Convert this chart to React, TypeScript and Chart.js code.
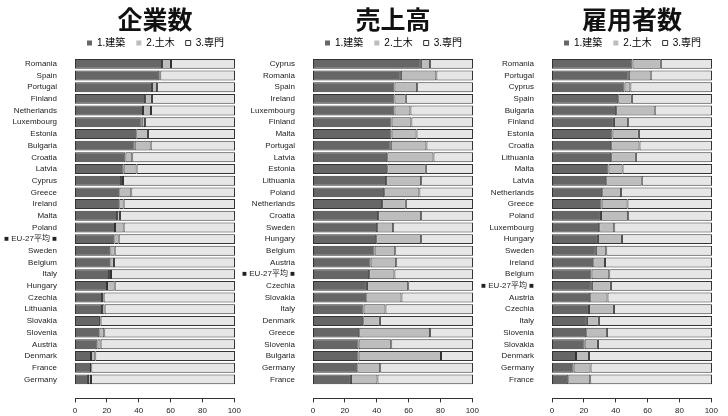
import React, { useEffect, useRef } from 'react';
import { Chart, registerables } from 'chart.js';
Chart.register(...registerables);

const SERIES_NAMES = ['1.建築', '2.土木', '3.専門'];
const X_MIN = 0;
const X_MAX = 100;
const X_STEP = 20;

const TITLES = ['企業数', '売上高', '雇用者数'];

const LABELS_1 = ['Romania', 'Spain', 'Portugal', 'Finland', 'Netherlands', 'Luxembourg', 'Estonia', 'Bulgaria', 'Croatia', 'Latvia', 'Cyprus', 'Greece', 'Ireland', 'Malta', 'Poland', '■ EU-27平均 ■', 'Sweden', 'Belgium', 'Italy', 'Hungary', 'Czechia', 'Lithuania', 'Slovakia', 'Slovenia', 'Austria', 'Denmark', 'France', 'Germany'];
const BUILD_1 = [54.4, 52.7, 48.1, 43.8, 42.5, 41.7, 38.3, 37.3, 31.5, 30.4, 28.8, 27.7, 27.7, 26.3, 25.0, 24.6, 22.1, 22.1, 21.3, 20.0, 16.9, 16.9, 15.6, 15.2, 14.0, 10.0, 10.0, 8.1];
const CIVIL_1 = [5.6, 0.6, 3.2, 4.3, 5.0, 2.1, 7.3, 10.0, 4.3, 8.1, 1.2, 7.5, 2.7, 1.8, 5.4, 2.7, 2.7, 2.3, 1.2, 4.8, 1.0, 1.6, 0.4, 3.1, 2.0, 2.7, 0.2, 1.9];
const SPEC_1 = [40.0, 46.7, 48.7, 51.9, 52.5, 56.2, 54.4, 52.7, 64.2, 61.5, 70.0, 64.8, 69.6, 71.9, 69.6, 72.7, 75.2, 75.6, 77.5, 75.2, 82.1, 81.5, 84.0, 81.7, 84.0, 87.3, 89.8, 90.0];

const LABELS_2 = ['Cyprus', 'Romania', 'Spain', 'Ireland', 'Luxembourg', 'Finland', 'Malta', 'Portugal', 'Latvia', 'Estonia', 'Lithuania', 'Poland', 'Netherlands', 'Croatia', 'Sweden', 'Hungary', 'Belgium', 'Austria', '■ EU-27平均 ■', 'Czechia', 'Slovakia', 'Italy', 'Denmark', 'Greece', 'Slovenia', 'Bulgaria', 'Germany', 'France'];
const BUILD_2 = [67.4, 54.9, 50.9, 50.9, 50.9, 49.1, 49.1, 48.6, 46.4, 46.4, 45.7, 44.5, 43.2, 40.7, 40.1, 39.5, 38.5, 36.0, 35.1, 33.7, 33.3, 31.6, 31.4, 28.9, 28.5, 28.5, 27.7, 23.7];
const CIVIL_2 = [5.8, 22.2, 14.2, 7.1, 10.0, 12.4, 15.6, 22.3, 28.9, 24.1, 21.9, 22.0, 14.8, 26.9, 10.0, 28.1, 12.9, 16.0, 15.8, 25.8, 22.0, 13.7, 10.4, 44.3, 20.4, 51.5, 14.3, 16.6];
const SPEC_2 = [26.8, 22.9, 34.9, 42.0, 39.1, 38.5, 35.3, 29.1, 24.7, 29.5, 32.4, 33.5, 42.0, 32.4, 49.9, 32.4, 48.6, 48.0, 49.1, 40.5, 44.7, 54.7, 58.2, 26.8, 51.1, 20.0, 58.0, 59.7];

const LABELS_3 = ['Romania', 'Portugal', 'Cyprus', 'Spain', 'Bulgaria', 'Finland', 'Estonia', 'Croatia', 'Lithuania', 'Malta', 'Latvia', 'Netherlands', 'Greece', 'Poland', 'Luxembourg', 'Hungary', 'Sweden', 'Ireland', 'Belgium', '■ EU-27平均 ■', 'Austria', 'Czechia', 'Italy', 'Slovenia', 'Slovakia', 'Denmark', 'Germany', 'France'];
const BUILD_3 = [50.3, 48.0, 45.3, 41.4, 40.1, 38.7, 37.8, 37.0, 37.0, 35.3, 33.9, 31.4, 31.0, 30.6, 29.5, 28.7, 27.4, 25.8, 24.7, 24.9, 23.9, 23.1, 21.8, 21.4, 20.4, 15.0, 13.5, 10.2];
const CIVIL_3 = [17.7, 13.7, 3.7, 8.5, 24.1, 8.9, 16.5, 17.7, 15.4, 8.8, 22.2, 11.8, 16.2, 17.0, 9.4, 15.0, 6.5, 7.3, 11.1, 11.9, 10.8, 15.6, 7.5, 12.9, 8.3, 8.1, 10.6, 13.7];
const SPEC_3 = [32.0, 38.3, 51.0, 50.1, 35.8, 52.4, 45.7, 45.3, 47.6, 55.9, 43.9, 56.8, 52.8, 52.4, 61.1, 56.3, 66.1, 66.9, 64.2, 63.2, 65.3, 61.3, 70.7, 65.7, 71.3, 76.9, 75.9, 76.1];

const DARK = '#666666';
const MID = '#bdbdbd';
const LIGHT = '#e6e6e6';
const EDGE = '#333333';
const FILLS = [DARK, MID, LIGHT];

const Y_AXIS_W = 74;
const PLOT_W = 160;
const RIGHT_PAD = 10;
const PANEL_W = Y_AXIS_W + PLOT_W + RIGHT_PAD;
const MAIN_H = 400;
const AXIS_TOP = 376;
const AXIS_H = 44;

const FONT_FAMILY = '"Liberation Sans", Arial, "Noto Sans CJK JP", sans-serif';

type PanelProps = {
  left: number;
  title: string;
  labels: string[];
  series: number[][];
};

function Panel({ left, title, labels, series }: PanelProps) {
  const mainRef = useRef<HTMLCanvasElement | null>(null);
  const axisRef = useRef<HTMLCanvasElement | null>(null);

  useEffect(() => {
    if (!mainRef.current || !axisRef.current) return;
    const main = new Chart(mainRef.current, {
      type: 'bar',
      data: {
        labels,
        datasets: series.map((vals, i) => ({
          label: SERIES_NAMES[i],
          data: vals,
          backgroundColor: FILLS[i],
          borderColor: EDGE,
          borderWidth: 1,
          borderSkipped: false,
          barPercentage: 0.85,
          categoryPercentage: 1,
        })),
      },
      options: {
        indexAxis: 'y',
        responsive: false,
        animation: false,
        layout: { padding: { left: 0, right: RIGHT_PAD, top: 0, bottom: 3 } },
        scales: {
          x: { display: false, stacked: true, min: X_MIN, max: X_MAX },
          y: {
            stacked: true,
            grid: { display: false },
            border: { display: false },
            ticks: {
              color: '#222',
              padding: 10,
              autoSkip: false,
              font: { family: FONT_FAMILY, size: 8 },
            },
            afterFit: (s: any) => {
              s.width = Y_AXIS_W;
            },
          },
        },
        plugins: {
          tooltip: { enabled: false },
          title: {
            display: true,
            text: title,
            fullSize: false,
            color: '#111',
            font: { family: '"Noto Sans CJK JP", sans-serif', size: 25, weight: 'bold', lineHeight: 0.6 },
            padding: { top: 12, bottom: 0 },
          },
          legend: {
            display: true,
            fullSize: false,
            align: 'end',
            labels: {
              boxWidth: 5,
              boxHeight: 5,
              padding: 11,
              color: '#222',
              font: { family: FONT_FAMILY, size: 10 },
              generateLabels: () =>
                SERIES_NAMES.map((name, i) => ({
                  text: name,
                  fillStyle: i === 2 ? '#ffffff' : FILLS[i],
                  strokeStyle: i === 2 ? EDGE : FILLS[i],
                  lineWidth: i === 2 ? 1 : 0,
                  hidden: false,
                  datasetIndex: i,
                })),
            },
          },
        },
      },
    } as any);

    const axis = new Chart(axisRef.current, {
      type: 'bar',
      data: { labels: [''], datasets: [] },
      options: {
        indexAxis: 'y',
        responsive: false,
        animation: false,
        layout: { padding: { left: Y_AXIS_W, right: RIGHT_PAD, top: 0, bottom: 0 } },
        scales: {
          x: {
            min: X_MIN,
            max: X_MAX,
            grid: { drawOnChartArea: false, drawTicks: true, tickLength: 4, color: EDGE, lineWidth: 1 },
            border: { display: true, color: EDGE, width: 1 },
            ticks: { stepSize: X_STEP, color: '#222', padding: 4, font: { family: FONT_FAMILY, size: 8 } },
          },
          y: { display: false },
        },
        plugins: { legend: { display: false }, tooltip: { enabled: false }, title: { display: false } },
      },
    } as any);

    return () => {
      main.destroy();
      axis.destroy();
    };
  }, []);

  return (
    <>
      <div style={{ position: 'absolute', left, top: 0, width: PANEL_W, height: MAIN_H }}>
        <canvas ref={mainRef} width={PANEL_W} height={MAIN_H} />
      </div>
      <div style={{ position: 'absolute', left, top: AXIS_TOP, width: PANEL_W, height: AXIS_H }}>
        <canvas ref={axisRef} width={PANEL_W} height={AXIS_H} />
      </div>
    </>
  );
}

export default function App() {
  return (
    <div style={{ position: 'absolute', left: 0, top: 0, width: 728, height: 416, background: '#fff', overflow: 'hidden' }}>
      <Panel left={1} title={TITLES[0]} labels={LABELS_1} series={[BUILD_1, CIVIL_1, SPEC_1]} />
      <Panel left={239} title={TITLES[1]} labels={LABELS_2} series={[BUILD_2, CIVIL_2, SPEC_2]} />
      <Panel left={478} title={TITLES[2]} labels={LABELS_3} series={[BUILD_3, CIVIL_3, SPEC_3]} />
    </div>
  );
}
